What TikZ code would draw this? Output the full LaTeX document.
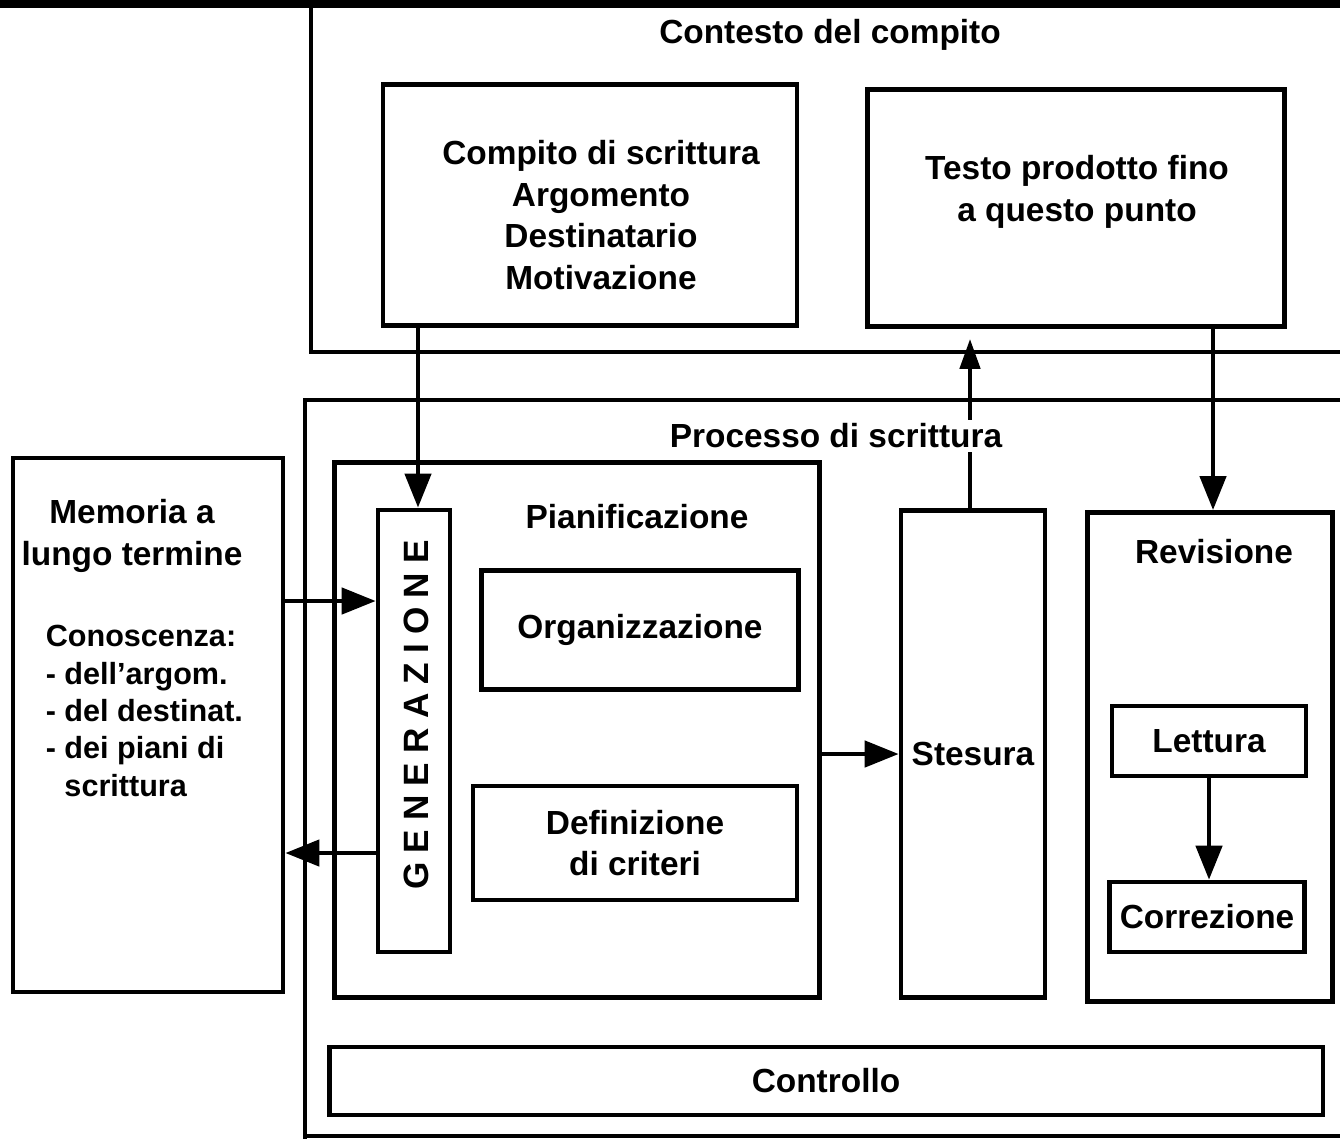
\documentclass[tikz,border=0pt]{standalone}
\usepackage{fontspec}
\setmainfont{Liberation Sans}
\usepackage{tikz}
\usetikzlibrary{arrows.meta}

\begin{document}
\begin{tikzpicture}[
	x=0.01cm, y=-0.01cm,
	line width=1.3pt,
	font=\fontsize{9.5}{11.9}\selectfont\bfseries,
	box/.style={draw, rectangle, inner sep=0pt, align=center},
	lbl/.style={inner sep=1pt, align=center},
	arr/.style={-{Triangle[length=0.34cm,width=0.26cm]}}]
  \useasboundingbox (0,0) rectangle (1340,1139);
  \fill[white] (0,0) rectangle (1340,1139);
  \fill[black] (0,0) rectangle (1340,8);
  % contesto del compito
  \draw (311,8) -- (311,352) -- (1340,352);
  \node[lbl] (contesto) at (830,35) {Contesto del compito};
  \node[box, minimum width=4.14cm, minimum height=2.41cm] (compito) at (590,205) {};
  \node[lbl] (compitotxt) at (601,215) {Compito di scrittura\\Argomento\\Destinatario\\Motivazione};
  \node[box, minimum width=4.17cm, minimum height=2.37cm] (testo) at (1076,208) {};
  \node[lbl] (testotxt) at (1077,192) {Testo prodotto fino\\a questo punto};
  % processo di scrittura
  \draw (1340,400) -- (305,400) -- (305,1139);
  \draw (305,1136) -- (1340,1136);
  \node[box, minimum width=2.70cm, minimum height=5.34cm] (memoria) at (148,725) {};
  \node[lbl] (memtit) at (132,536) {Memoria a\\lungo termine};
  \node[lbl, align=left, anchor=west, font=\fontsize{8.7}{10.6}\selectfont\bfseries] (conosc) at (40,711)
  	{Conoscenza:\\- dell'argom.\\- del destinat.\\- dei piani di\\\phantom{-}\ scrittura};
  \node[box, minimum width=4.85cm, minimum height=5.35cm] (pianif) at (577,730) {};
  \node[lbl] (piantit) at (637,517) {Pianificazione};
  \node[box, minimum width=0.72cm, minimum height=4.42cm] (gener) at (414,731) {};
  \node[lbl, rotate=90, font=\fontsize{10}{12}\selectfont\bfseries\addfontfeature{LetterSpace=26}] (gentxt) at (416,715) {GENERAZIONE};
  \node[box, minimum width=3.17cm, minimum height=1.19cm] (organ) at (640,630) {Organizzazione};
  \node[box, minimum width=3.24cm, minimum height=1.14cm] (defin) at (635,843) {Definizione\\di criteri};
  \node[box, minimum width=1.44cm, minimum height=4.87cm] (stesura) at (973,754) {Stesura};
  \node[box, minimum width=2.45cm, minimum height=4.89cm] (revis) at (1210,757) {};
  \node[lbl] (revtit) at (1214,552) {Revisione};
  \node[box, minimum width=1.94cm, minimum height=0.70cm] (lettura) at (1209,741) {Lettura};
  \node[box, minimum width=1.95cm, minimum height=0.70cm] (correz) at (1207,917) {Correzione};
  \node[box, minimum width=9.93cm, minimum height=0.68cm] (controllo) at (826,1081) {Controllo};
  % frecce
  \coordinate (m1) at (283,601);
  \coordinate (g1) at (378,853);
  \draw[arr] (compito.south -| 418,0) -- (gener.north -| 418,0);
  \draw[arr] (m1) -- (m1 -| gener.west);
  \draw[arr] (g1) -- (g1 -| memoria.east);
  \draw[arr] (stesura.west -| pianif.east) -- (stesura.west);
  \draw[-{Triangle[length=0.3cm,width=0.2cm]}, shorten >=0.1cm] (stesura.north -| 970,0) -- (testo.south -| 970,0);
  \draw[arr] (testo.south -| 1213,0) -- (revis.north -| 1213,0);
  \draw[arr] (lettura.south) -- (lettura.south |- correz.north);
  \node[lbl, fill=white] (processo) at (836,436) {Processo di scrittura};
\end{tikzpicture}
\end{document}
